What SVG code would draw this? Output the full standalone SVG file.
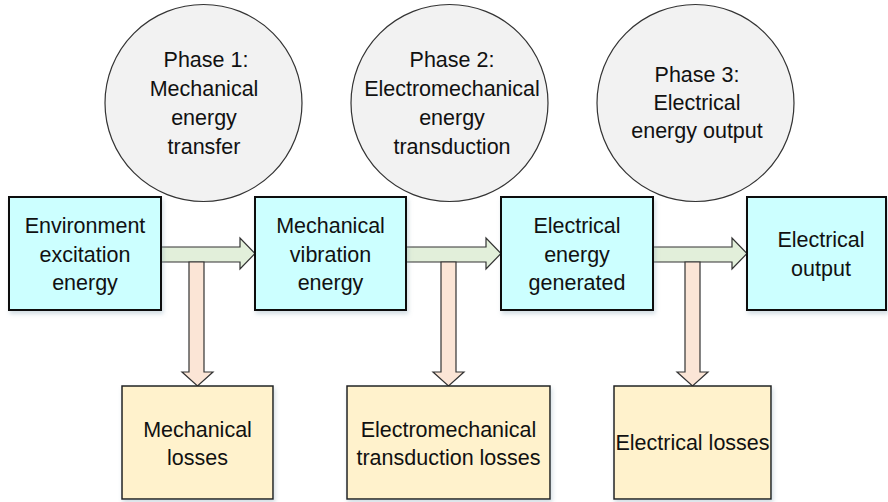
<svg xmlns="http://www.w3.org/2000/svg" width="888" height="502" viewBox="0 0 888 502">
<defs>
<filter id="sh" x="-10%" y="-10%" width="125%" height="130%">
<feDropShadow dx="1.5" dy="3" stdDeviation="2" flood-color="#7f9fb0" flood-opacity="0.35"/>
</filter>
</defs>
<style>
text{font-family:"Liberation Sans",Arial,sans-serif;font-size:21.5px;fill:#111;text-anchor:middle}
.main{fill:#ccffff;stroke:#111;stroke-width:2;filter:url(#sh)}
.loss{fill:#fff2cc;stroke:#222;stroke-width:1.5;filter:url(#sh)}
.phase{fill:#f2f2f2;stroke:#333;stroke-width:1.2}
.ga{fill:#e2efda;stroke:#333;stroke-width:1.2}
.da{fill:#fbe5d6;stroke:#333;stroke-width:1.2}
</style>
<rect width="888" height="502" fill="#fff"/>
<g id="phase1"><circle class="phase" cx="203.5" cy="103" r="98.5"/>
<text x="206" y="67">Phase 1:</text><text x="204" y="96">Mechanical</text><text x="204" y="125">energy</text><text x="204" y="154">transfer</text></g>
<g id="phase2"><circle class="phase" cx="449.5" cy="103" r="98.5"/>
<text x="452" y="67">Phase 2:</text><text x="452" y="96">Electromechanical</text><text x="452" y="125">energy</text><text x="452" y="154">transduction</text></g>
<g id="phase3"><circle class="phase" cx="695.5" cy="103" r="98.5"/>
<text x="697" y="82">Phase 3:</text><text x="697" y="110">Electrical</text><text x="697" y="138">energy output</text></g>
<g id="connectors">
<path class="ga" d="M161,247 H240 V238 L255,253.5 L240,269 V262 H161 Z"/>
<path class="ga" d="M406,247 H486 V238 L501,253.5 L486,269 V262 H406 Z"/>
<path class="ga" d="M653,247 H732 V238 L747,253.5 L732,269 V262 H653 Z"/>
<path class="da" d="M189,262 V372 H182 L197.5,386 L213,372 H204 V262 Z"/>
<path class="da" d="M441,262 V372 H433 L448.5,386 L464,372 H456 V262 Z"/>
<path class="da" d="M685,262 V372 H677 L692.5,386 L708,372 H700 V262 Z"/>
</g>
<g id="env"><rect class="main" x="9" y="197" width="152" height="113"/>
<text x="85" y="233">Environment</text><text x="85" y="262">excitation</text><text x="85" y="290">energy</text></g>
<g id="mech"><rect class="main" x="255" y="197" width="151" height="113"/>
<text x="330.5" y="233">Mechanical</text><text x="330.5" y="262">vibration</text><text x="330.5" y="290">energy</text></g>
<g id="elecgen"><rect class="main" x="501" y="197" width="152" height="113"/>
<text x="577" y="233">Electrical</text><text x="577" y="262">energy</text><text x="577" y="290">generated</text></g>
<g id="elecout"><rect class="main" x="747" y="197" width="139" height="113"/>
<text x="821" y="247">Electrical</text><text x="821" y="276">output</text></g>
<g id="mechloss"><rect class="loss" x="122" y="386" width="151" height="113"/>
<text x="197.5" y="437">Mechanical</text><text x="197.5" y="465">losses</text></g>
<g id="emloss"><rect class="loss" x="347" y="386" width="203" height="113"/>
<text x="448.5" y="437">Electromechanical</text><text x="448.5" y="465">transduction losses</text></g>
<g id="eloss"><rect class="loss" x="614" y="386" width="157" height="113"/>
<text x="692.5" y="450">Electrical losses</text></g>
</svg>
